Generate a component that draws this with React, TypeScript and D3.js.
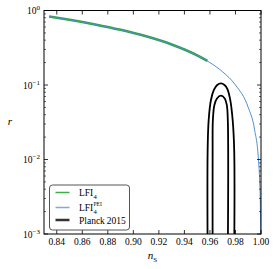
import React from "react";
import * as d3 from "d3";

// curve: ns vs r
const nsPei = [0.834, 0.85, 0.87, 0.89, 0.91, 0.93, 0.95, 0.96, 0.97, 0.98, 0.99, 0.995, 0.998, 0.999, 0.9995, 0.9998];
const rPei = [0.83, 0.75, 0.65, 0.55, 0.45, 0.35, 0.25, 0.2, 0.15, 0.1, 0.05, 0.025, 0.01, 0.005, 0.0025, 0.001];
const nsLfi = [0.834, 0.85, 0.87, 0.89, 0.91, 0.93, 0.95, 0.958];
const rLfi = [0.83, 0.75, 0.65, 0.55, 0.45, 0.35, 0.25, 0.21];

// Planck 2015 contours
const outerNs = [0.9582, 0.9582, 0.959, 0.9608, 0.9631, 0.9657, 0.9686, 0.9714, 0.9737, 0.9759, 0.9778, 0.979, 0.979];
const outerR = [0.0005, 0.0134, 0.0339, 0.063, 0.0857, 0.1, 0.105, 0.1, 0.088, 0.063, 0.0339, 0.0134, 0.0005];
const innerNs = [0.9621, 0.9621, 0.9623, 0.9635, 0.9655, 0.9686, 0.9716, 0.9732, 0.974, 0.974];
const innerR = [0.0005, 0.0134, 0.0339, 0.054, 0.066, 0.0718, 0.066, 0.054, 0.0339, 0.0005];

const xTicks = [0.84, 0.86, 0.88, 0.9, 0.92, 0.94, 0.96, 0.98, 1.0];
const yDecades = [0, -1, -2, -3];

const font = "Liberation Serif, serif";

export default function App() {
    const ref = React.useRef(null);

    React.useEffect(() => {
        d3.select(ref.current).selectAll("*").remove();
        const margin = { top: 10.5, left: 44, right: 15, bottom: 35 };
        const W = 276, H = 269;
        const width = W - margin.left - margin.right;
        const height = H - margin.top - margin.bottom;

        const svg = d3
            .select(ref.current)
            .append("svg")
            .attr("width", W)
            .attr("height", H)
            .style("position", "absolute")
            .style("left", 0)
            .style("top", 0)
            .append("g")
            .attr("transform", `translate(${margin.left},${margin.top})`);

        const x = d3.scaleLinear().domain([0.83, 1.0]).range([0, width]);
        const y = d3.scaleLog().domain([1e-3, 1]).range([height, 0]);

        svg.append("defs")
            .append("clipPath")
            .attr("id", "plotclip")
            .append("rect")
            .attr("width", width)
            .attr("height", height);

        const plot = svg.append("g").attr("clip-path", "url(#plotclip)");

        const line = d3
            .line<[number, number]>()
            .x((d) => x(d[0]))
            .y((d) => y(d[1]))
            .curve(d3.curveMonotoneX);

        const contour = d3
            .line<[number, number]>()
            .x((d) => x(d[0]))
            .y((d) => y(d[1]))
            .curve(d3.curveCatmullRom.alpha(0.5));

        const zip = (a: number[], b: number[]) => a.map((v, i) => [v, b[i]] as [number, number]);

        // contours
        [zip(outerNs, outerR), zip(innerNs, innerR)].forEach((pts) => {
            plot.append("path")
                .datum(pts)
                .attr("fill", "none")
                .attr("stroke", "#000")
                .attr("stroke-width", 1.8)
                .attr("d", contour);
        });

        plot.append("path")
            .datum(zip(nsLfi, rLfi))
            .attr("fill", "none")
            .attr("stroke", "#2ea043")
            .attr("stroke-width", 2.6)
            .attr("d", line);

        plot.append("path")
            .datum(zip(nsPei, rPei))
            .attr("fill", "none")
            .attr("stroke", "#4f8fd0")
            .attr("stroke-width", 1)
            .attr("d", line);

        // frame
        svg.append("rect")
            .attr("width", width)
            .attr("height", height)
            .attr("fill", "none")
            .attr("stroke", "#000")
            .attr("stroke-width", 1);

        // x ticks top & bottom
        xTicks.forEach((t) => {
            const px = x(t);
            svg.append("line").attr("x1", px).attr("x2", px).attr("y1", height).attr("y2", height - 4).attr("stroke", "#000").attr("stroke-width", 0.8);
            svg.append("line").attr("x1", px).attr("x2", px).attr("y1", 0).attr("y2", 4).attr("stroke", "#000").attr("stroke-width", 0.8);
            svg.append("text")
                .attr("x", px)
                .attr("y", height + 11)
                .attr("text-anchor", "middle")
                .attr("font-family", font)
                .attr("font-size", 9.5)
                .text(d3.format(".2f")(t));
        });

        // y ticks left & right
        yDecades.forEach((e) => {
            const py = y(Math.pow(10, e));
            svg.append("line").attr("x1", 0).attr("x2", 4).attr("y1", py).attr("y2", py).attr("stroke", "#000").attr("stroke-width", 0.8);
            svg.append("line").attr("x1", width).attr("x2", width - 4).attr("y1", py).attr("y2", py).attr("stroke", "#000").attr("stroke-width", 0.8);
            const lbl = svg.append("text")
                .attr("x", -4)
                .attr("y", py + 3.5)
                .attr("text-anchor", "end")
                .attr("font-family", font)
                .attr("font-size", 9.5);
            lbl.append("tspan").text("10");
            lbl.append("tspan").attr("dy", -4).attr("font-size", 7).text(e === 0 ? "0" : "\u2212" + -e);
            if (e > -3) {
                for (let m = 2; m <= 9; m++) {
                    const pm = y(m * Math.pow(10, e - 1));
                    svg.append("line").attr("x1", 0).attr("x2", 2).attr("y1", pm).attr("y2", pm).attr("stroke", "#000").attr("stroke-width", 0.6);
                    svg.append("line").attr("x1", width).attr("x2", width - 2).attr("y1", pm).attr("y2", pm).attr("stroke", "#000").attr("stroke-width", 0.6);
                }
            }
        });

        // axis labels
        const xl = svg.append("text")
            .attr("x", width / 2)
            .attr("y", height + 25)
            .attr("text-anchor", "middle")
            .attr("font-family", font)
            .attr("font-size", 11);
        xl.append("tspan").attr("font-style", "italic").text("n");
        xl.append("tspan").attr("dy", 2.5).attr("font-size", 7).text("S");

        svg.append("text")
            .attr("x", 10 - margin.left)
            .attr("y", height / 2 + 3)
            .attr("text-anchor", "middle")
            .attr("font-family", font)
            .attr("font-style", "italic")
            .attr("font-size", 11)
            .text("r");

        // legend
        const lg = svg.append("g").attr("transform", `translate(${49.5 - margin.left},${185 - margin.top})`);
        lg.append("rect")
            .attr("width", 80)
            .attr("height", 45)
            .attr("rx", 3)
            .attr("fill", "#fff")
            .attr("stroke", "#555")
            .attr("stroke-width", 1);
        const items = [
            { color: "#3cb043", w: 1.5, name: "LFI", sub: "4", sup: "" },
            { color: "#7faadb", w: 1.5, name: "LFI", sub: "4", sup: "PEI" },
            { color: "#333", w: 2.5, name: "Planck\u20092015", sub: "", sup: "" },
        ];
        const rows = [7.5, 22.5, 35];
        items.forEach((it, i) => {
            lg.append("line")
                .attr("x1", 6)
                .attr("x2", 20)
                .attr("y1", rows[i])
                .attr("y2", rows[i])
                .attr("stroke", it.color)
                .attr("stroke-width", it.w);
            const t = lg.append("text")
                .attr("x", 29.5)
                .attr("y", rows[i] + 3.5)
                .attr("font-family", font)
                .attr("font-size", 9.5)
                .text(it.name);
            const tw = (t.node() as SVGTextElement).getComputedTextLength();
            if (it.sub) {
                lg.append("text")
                    .attr("x", 29.5 + tw + 0.3)
                    .attr("y", rows[i] + 6)
                    .attr("font-family", font)
                    .attr("font-size", 6.5)
                    .text(it.sub);
            }
            if (it.sup) {
                lg.append("text")
                    .attr("x", 29.5 + tw + 0.3)
                    .attr("y", rows[i] - 1.5)
                    .attr("font-family", font)
                    .attr("font-size", 5.5)
                    .text(it.sup);
            }
        });
    }, []);

    return <div ref={ref} />;
}
